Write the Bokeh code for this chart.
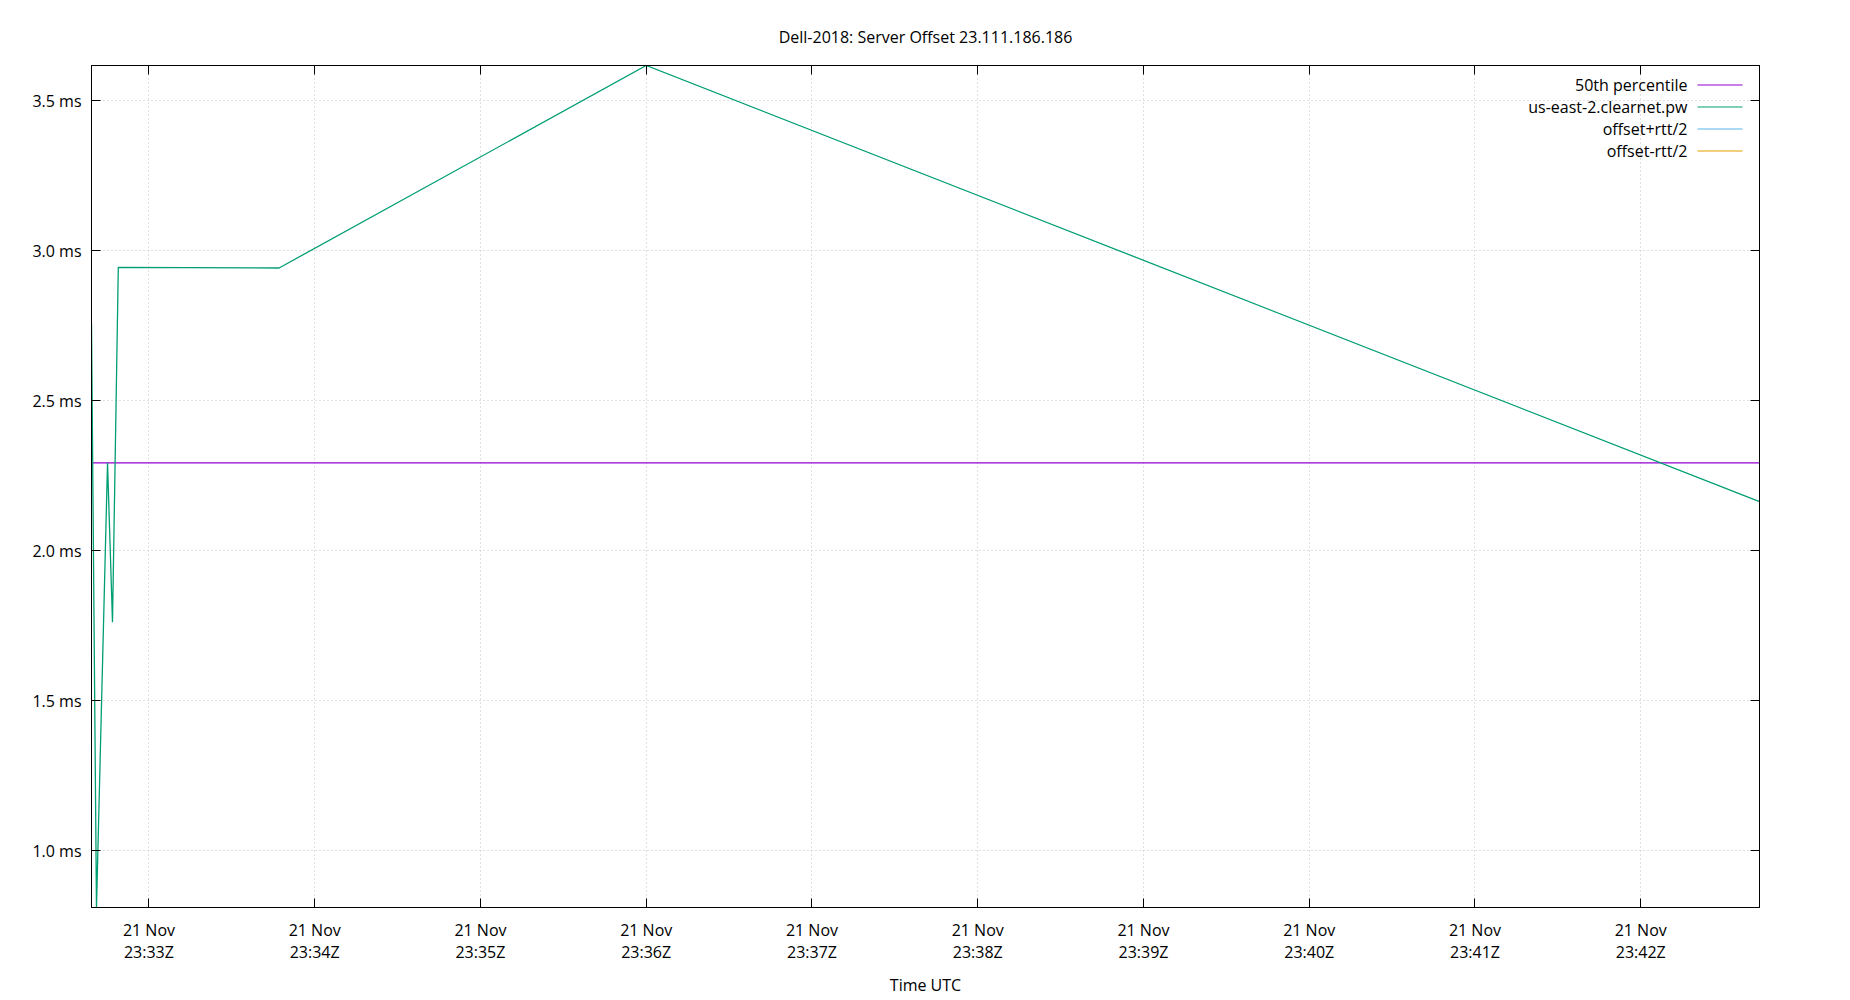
import pandas as pd
from bokeh.plotting import figure
from bokeh.models import (Range1d, FixedTicker, DatetimeTickFormatter, PrintfTickFormatter,
                          DatetimeAxis, LinearAxis, Label, BoxAnnotation, CustomJSTickFormatter)
from bokeh.embed import file_html
from bokeh.resources import INLINE

# ---------------- data ----------------
title_text = "Dell-2018: Server Offset 23.111.186.186"
x_label = "Time UTC"
server_name = "us-east-2.clearnet.pw"

sample_times = [
    "2023-11-21 23:32:39.2",
    "2023-11-21 23:32:41.0",
    "2023-11-21 23:32:45.0",
    "2023-11-21 23:32:46.8",
    "2023-11-21 23:32:48.9",
    "2023-11-21 23:33:47.1",
    "2023-11-21 23:36:00.0",
    "2023-11-21 23:42:43.0",
]
offsets_ms = [2.757, 0.81, 2.292, 1.761, 2.944, 2.942, 3.617, 2.163]
median_ms = 2.292

y_ticks = [1.0, 1.5, 2.0, 2.5, 3.0, 3.5]
x_tick_times = [
    "2023-11-21 23:33", "2023-11-21 23:34", "2023-11-21 23:35", "2023-11-21 23:36",
    "2023-11-21 23:37", "2023-11-21 23:38", "2023-11-21 23:39", "2023-11-21 23:40",
    "2023-11-21 23:41", "2023-11-21 23:42",
]
legend_labels = ["50th percentile", server_name, "offset+rtt/2", "offset-rtt/2"]
legend_colors = ["#9400d3", "#009e73", "#56b4e9", "#e69f00"]

# ---------------- build ----------------
FONT = "Open Sans"
t = pd.to_datetime(sample_times)
tick_ms = [pd.Timestamp(s).value / 1e6 for s in x_tick_times]

FW, FH = 1668, 842
p = figure(frame_width=FW, frame_height=FH, x_axis_type="datetime",
           x_range=Range1d(t[0], t[-1]), y_range=Range1d(min(offsets_ms), max(offsets_ms)),
           output_backend="svg", toolbar_location=None,
           min_border_left=91, min_border_right=83, min_border_top=65, min_border_bottom=85)

p.title.text = title_text
p.title.align = "center"
p.title.text_font = FONT
p.title.text_font_size = "16px"
p.title.text_font_style = "normal"
p.title.text_color = "black"
p.title.standoff = 36

p.outline_line_color = "black"
p.outline_line_width = 1
p.outline_line_alpha = 1
p.background_fill_color = "white"
p.border_fill_color = "white"

xt = FixedTicker(ticks=tick_ms)
yt = FixedTicker(ticks=y_ticks)
fmt_all = "%d %b\n%H:%MZ"
xfmt = DatetimeTickFormatter(seconds=fmt_all, minsec=fmt_all, minutes=fmt_all,
                             hourmin=fmt_all, hours=fmt_all, days=fmt_all,
                             milliseconds=fmt_all)

xa = p.xaxis[0]
xa.ticker = xt
xa.formatter = xfmt
ya = p.yaxis[0]
ya.ticker = yt
ya.formatter = PrintfTickFormatter(format="%.1f ms")

for ax in (xa, ya):
    ax.major_tick_in = 9
    ax.major_tick_out = 0
    ax.minor_tick_in = 0
    ax.minor_tick_out = 0
    ax.axis_line_color = "black"
    ax.major_tick_line_color = "black"
    ax.major_label_text_font = FONT
    ax.major_label_text_font_size = "16px"
    ax.major_label_text_color = "black"
    ax.axis_label_text_font = FONT
    ax.axis_label_text_font_size = "16px"
    ax.axis_label_text_font_style = "normal"
    ax.axis_label_text_color = "black"

ya.major_label_standoff = 10
xa.major_label_standoff = 11
xa.major_label_text_line_height = 1.02
xa.axis_label = x_label
xa.axis_label_standoff = 8

blank = CustomJSTickFormatter(code="return ''")
top_ax = DatetimeAxis(ticker=xt, formatter=blank, major_tick_in=9, major_tick_out=0,
                      minor_tick_in=0, minor_tick_out=0, major_label_standoff=0,
                      major_label_text_font_size="0px",
                      axis_line_color="black", major_tick_line_color="black")
right_ax = LinearAxis(ticker=yt, formatter=blank, major_tick_in=9, major_tick_out=0,
                      minor_tick_in=0, minor_tick_out=0, major_label_standoff=0,
                      major_label_text_font_size="0px",
                      axis_line_color="black", major_tick_line_color="black")
p.add_layout(top_ax, "above")
p.add_layout(right_ax, "right")

for g in (p.xgrid[0], p.ygrid[0]):
    g.grid_line_color = "#c0c0c0"
    g.grid_line_dash = "1 3"
    g.grid_line_width = 1
p.xgrid[0].ticker = xt
p.ygrid[0].ticker = yt

# median line (drawn first) and series
p.line(x=[t[0], t[-1]], y=[median_ms, median_ms], line_color=legend_colors[0], line_width=1.3)
p.line(x=t, y=offsets_ms, line_color=legend_colors[1], line_width=1.3)

# legend: text right-aligned, sample line on the right (gnuplot style)
text_right = FW - 72
row_top = 19.5
row_step = 22
for i, (lab, col) in enumerate(zip(legend_labels, legend_colors)):
    yy = FH - row_top - i * row_step
    p.add_layout(Label(x=text_right, y=yy, x_units="screen", y_units="screen", text=lab,
                       text_align="right", text_baseline="middle", text_font=FONT,
                       text_font_size="16px", text_color="black"))
    p.add_layout(BoxAnnotation(left=text_right + 10, right=text_right + 55,
                               bottom=yy - 0.6, top=yy + 0.6,
                               left_units="screen", right_units="screen",
                               bottom_units="screen", top_units="screen",
                               fill_color=col, fill_alpha=1, line_color=None))

open("out.html", "w").write(file_html(p, INLINE))
